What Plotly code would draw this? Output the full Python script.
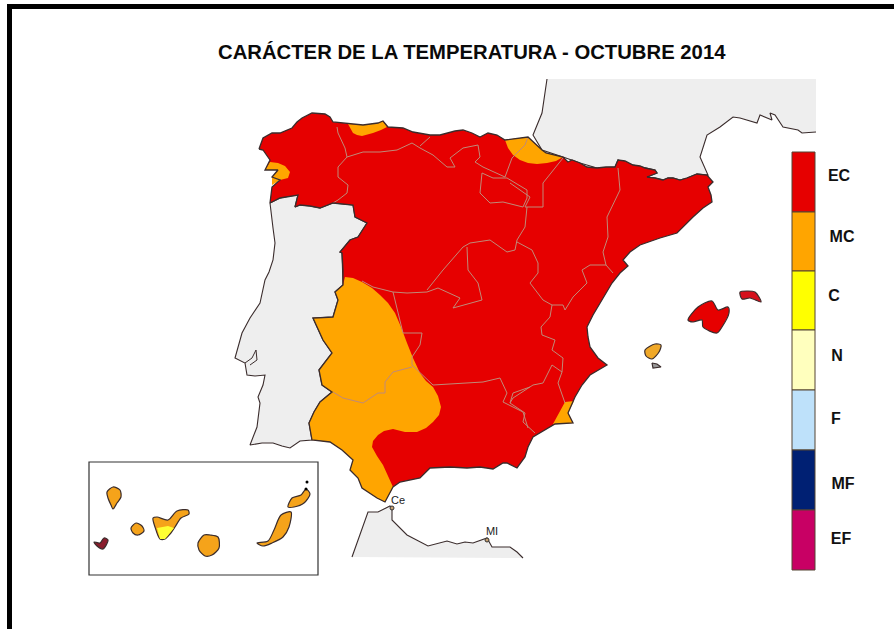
import plotly.graph_objects as go

TITLE = "CARÁCTER DE LA TEMPERATURA - OCTUBRE 2014"
CATEGORIES = ["EC", "MC", "C", "N", "F", "MF", "EF"]
COLORS = ["#e60000", "#ffa500", "#ffff00", "#ffffbe", "#bee1fa", "#002073", "#c80064"]
BAR_EDGES = [152, 212, 271, 330, 390, 450, 510, 570]
LABEL_X = [839, 842, 834, 837, 836, 843, 841]
LABEL_Y = [177, 238, 297, 357, 420, 485, 540]

SPAIN = [(259,149),(261,143),(263,138),(272,133),(280,133),(292,128),(297,122),(302,118),(312,113),(325,114),(330,117),(333,122),(343,123),(363,125),(378,123),(383,121),(388,127),(403,128),(413,132),(430,135),(440,135),(447,133),(455,131),(463,130),(472,133),(480,137),(488,133),(497,135),(505,140),(528,137),(535,144),(542,150),(546,153),(563,157),(568,162),(572,160),(580,163),(587,167),(597,168),(606,167),(615,167),(618,160),(625,161),(633,165),(640,166),(645,168),(655,170),(657,173),(647,177),(655,178),(663,180),(668,178),(673,178),(680,180),(687,178),(697,174),(707,175),(713,182),(708,187),(711,195),(712,202),(703,208),(693,217),(685,225),(677,233),(660,238),(640,245),(630,252),(623,260),(628,266),(620,273),(612,283),(606,293),(600,303),(593,315),(587,327),(588,337),(590,347),(598,358),(607,365),(598,370),(590,375),(582,385),(575,397),(568,413),(573,423),(555,424),(545,430),(533,437),(528,447),(525,457),(517,468),(507,463),(503,463),(493,469),(480,467),(467,468),(450,467),(430,468),(420,478),(400,482),(393,487),(389,495),(385,502),(377,498),(362,488),(358,478),(350,470),(353,460),(342,450),(330,442),(312,440),(309,423),(314,412),(320,402),(332,392),(322,385),(319,370),(332,353),(323,340),(313,318),(333,317),(338,300),(335,292),(343,285),(343,270),(342,253),(340,252),(350,240),(358,237),(367,223),(355,217),(353,205),(333,203),(320,208),(310,206),(300,205),(295,207),(298,195),(290,196),(280,198),(270,203),(272,187),(280,180),(272,177),(278,170),(265,170),(270,160),(263,150)]
PORTUGAL = [(270,203),(280,198),(290,196),(298,195),(295,207),(300,205),(310,206),(320,208),(333,203),(353,205),(355,217),(367,223),(358,237),(350,240),(340,252),(342,253),(343,285),(335,292),(338,300),(333,317),(313,318),(323,340),(332,353),(319,370),(322,385),(332,392),(320,402),(314,412),(309,423),(312,440),(300,441),(290,448),(282,446),(273,443),(262,443),(250,445),(257,427),(260,403),(258,397),(263,385),(265,375),(255,376),(247,375),(245,363),(235,358),(238,346),(242,333),(250,318),(260,303),(265,280),(269,272),(273,260),(275,243),(273,228)]
ESTUARY = [(245,363),(252,358),(256,350),(257,360),(250,365)]
FRANCE = [(547,79),(816,79),(816,132),(802,133),(798,130),(783,127),(775,115),(770,113),(772,120),(760,115),(757,123),(740,118),(733,117),(720,127),(707,135),(700,157),(708,175),(697,174),(687,178),(680,180),(673,178),(668,178),(663,180),(655,178),(647,177),(657,173),(655,170),(645,168),(633,165),(618,160),(615,167),(597,168),(580,163),(563,157),(542,150),(533,135),(542,113)]
MOROCCO = [(352,557),(368,512),(378,512),(390,506),(392,508),(392,520),(407,535),(428,546),(447,541),(457,544),(465,542),(473,543),(487,538),(492,547),(510,547),(517,552),(523,558)]

OR_WEST = [(345,277),(353,278),(362,282),(372,288),(380,295),(388,303),(395,313),(401,327),(407,343),(413,358),(420,373),(426,381),(433,387),(438,396),(441,407),(439,415),(433,422),(426,428),(417,432),(405,432),(393,429),(384,431),(378,435),(373,441),(372,447),(377,456),(383,465),(388,476),(393,487),(389,495),(385,502),(377,498),(362,488),(358,478),(350,470),(353,460),(342,450),(330,442),(312,440),(309,423),(314,412),(320,402),(332,392),(322,385),(319,370),(332,353),(323,340),(313,318),(333,317),(338,300),(335,292),(343,285)]
OR_BASQUE = [(505,140),(528,137),(535,144),(542,150),(546,153),(563,157),(556,161),(547,163),(537,164),(528,163),(520,160),(513,155),(508,148)]
OR_ASTUR = [(348,124),(363,125),(378,123),(383,121),(387,127),(381,130),(373,133),(362,136),(357,135),(353,133)]
OR_GAL = [(265,170),(270,162),(278,163),(285,166),(290,172),(288,178),(280,180),(272,185),(272,177),(278,170)]
OR_ALIC = [(565,402),(574,401),(568,413),(573,423),(553,424)]

MALLORCA = [(688,320),(698,307),(712,301),(718,310),(728,307),(729,313),(722,327),(717,333),(703,327),(702,320),(693,322)]
MENORCA = [(740,292),(748,291),(755,292),(759,297),(761,302),(750,298),(742,299)]
IBIZA = [(645,350),(655,344),(661,345),(659,352),(652,359),(646,356)]
FORMENTERA = [(652,363),(657,364),(661,367),(653,368)]

LA_PALMA = [(107,492),(113,487),(120,490),(121,497),(117,503),(113,509),(111,505),(108,498)]
GOMERA = [(131,528),(136,523),(142,526),(144,531),(138,535),(133,533)]
HIERRO = [(94,542),(100,543),(104,538),(108,540),(103,549),(97,546)]
TENERIFE = [(153,518),(157,517),(168,520),(177,511),(188,510),(189,514),(181,518),(175,527),(170,534),(165,539),(160,539),(155,527)]
TENERIFE_S = [(157,528),(168,526),(174,528),(165,539),(160,539)]
GRAN_CANARIA = [(198,543),(204,535),(210,535),(218,537),(219,548),(212,555),(205,556),(199,550)]
FUERTE = [(257,543),(268,541),(274,530),(281,515),(291,512),(289,527),(283,537),(272,543),(263,546)]
LANZAROTE = [(288,507),(292,498),(301,495),(306,489),(310,494),(304,503),(294,507)]

BORDERS = [
 [(337,127),(338,133),(345,148),(347,157),(338,167),(338,177),(348,185),(347,193),(338,200),(333,203)],
 [(347,157),(363,152),(380,152),(397,150),(412,143),(420,148),(433,155),(447,167),(455,167),(450,158),(463,148),(478,145),(480,157),(475,162),(483,167),(505,177),(512,158),(525,145),(528,137)],
 [(420,146),(430,137)],
 [(482,173),(480,193),(490,203),(503,202),(523,207),(527,198),(527,190),(507,178),(493,178),(482,173)],
 [(563,158),(543,183),(543,207),(525,207),(530,197),(510,183)],
 [(527,207),(525,227),(517,240),(515,250),(507,252),(490,240),(470,243),(463,247),(443,270),(427,290)],
 [(618,168),(620,190),(607,217),(608,237),(603,252),(606,265),(613,273)],
 [(517,242),(532,250),(538,263),(538,273),(530,283),(543,300),(552,305),(563,305),(565,310),(573,297),(587,283),(582,270),(590,265),(606,265)],
 [(552,305),(550,317),(541,327),(542,335),(555,340),(552,350),(563,358),(562,372),(558,383),(563,397),(565,403)],
 [(562,372),(552,365),(543,383),(533,385),(513,398),(510,403),(525,413),(523,422),(535,433)],
 [(362,281),(373,287),(393,292),(407,293),(427,292),(438,288),(460,298),(453,308),(482,300),(478,283),(468,270),(467,247)],
 [(393,292),(398,313),(403,333),(422,333),(420,345),(412,357),(412,365),(433,385),(460,383),(483,382),(500,378),(507,393),(503,402),(523,412),(528,428)],
 [(510,403),(513,393),(530,387)],
 [(412,367),(393,372),(385,382),(385,393),(378,393),(363,403),(343,398),(333,392)],
]

BLACK_DOTS_X = [306, 307]
BLACK_DOTS_Y = [489, 482]
CITY_X = [392, 487]
CITY_Y = [508, 540]
CITY_LABELS = ["Ce", "MI"]
CITY_LABEL_X = [398, 492]
CITY_LABEL_Y = [501, 532]

fig = go.Figure()
COAST = "#3a2c2c"

def poly(pts, fill, line=COAST, w=1.2, closed=True, smooth=False):
    xs = [p[0] for p in pts]
    ys = [p[1] for p in pts]
    if closed:
        xs = xs + xs[:1]
        ys = ys + ys[:1]
    ldict = dict(color=line if line else "rgba(0,0,0,0)", width=w if line else 0)
    if smooth:
        ldict.update(shape="spline", smoothing=0.8)
    fig.add_trace(go.Scatter(x=xs, y=ys, mode="lines", fill="toself" if fill else None,
                             fillcolor=fill, hoverinfo="skip", showlegend=False, line=ldict))

GRAY = "#eeeeee"
poly(FRANCE, GRAY, None)
poly(FRANCE[2:] + FRANCE[:1], None, COAST, 1.1, closed=False)
poly(PORTUGAL, GRAY, COAST, 1.1)
poly(ESTUARY, None, COAST, 1.0, closed=False)
poly(MOROCCO, GRAY, None)
poly(MOROCCO, None, COAST, 1.1, closed=False)
poly(SPAIN, COLORS[0], None)
for p in (OR_WEST, OR_BASQUE, OR_ASTUR, OR_GAL, OR_ALIC):
    poly(p, COLORS[1], None)
for b in BORDERS:
    poly(b, None, "#c08a78", 1.0, closed=False)
poly(SPAIN, None, COAST, 1.3)
poly(MALLORCA, COLORS[0], smooth=True)
poly(MENORCA, "#d5101c", smooth=True)
poly(IBIZA, "#f0a828", smooth=True)
poly(FORMENTERA, "#999999")
for p in (LA_PALMA, GOMERA, TENERIFE, GRAN_CANARIA, FUERTE, LANZAROTE):
    poly(p, "#f5a31a", smooth=True)
poly(TENERIFE_S, "#ffff33", None)
poly(HIERRO, "#8a1c2c", smooth=True)

fig.add_trace(go.Scatter(x=BLACK_DOTS_X, y=BLACK_DOTS_Y, mode="markers",
                         marker=dict(color="black", size=3), hoverinfo="skip", showlegend=False))
fig.add_trace(go.Scatter(x=CITY_X, y=CITY_Y, mode="markers",
                         marker=dict(color="#c8a070", size=4, line=dict(color="#333", width=1)),
                         hoverinfo="skip", showlegend=False))
fig.add_trace(go.Scatter(x=CITY_LABEL_X, y=CITY_LABEL_Y, mode="text", text=CITY_LABELS,
                         textfont=dict(family="Liberation Sans", size=11, color="#222"),
                         hoverinfo="skip", showlegend=False))

# legend colour bar
fig.add_trace(go.Bar(x=[803.5] * 7, y=[BAR_EDGES[i + 1] - BAR_EDGES[i] for i in range(7)], base=BAR_EDGES[:-1],
                     width=23, marker=dict(color=COLORS, line=dict(color="#554433", width=1)),
                     hoverinfo="skip", showlegend=False))
fig.add_trace(go.Scatter(x=LABEL_X, y=LABEL_Y, mode="text", text=CATEGORIES,
                         textfont=dict(family="Liberation Sans", size=16, color="#111", weight="bold"),
                         hoverinfo="skip", showlegend=False))

fig.add_annotation(x=472, y=52, text="<b>%s</b>" % TITLE, showarrow=False, xref="x", yref="y",
                   font=dict(family="Liberation Sans", size=20.3, color="#0a0a0a"))

# inset box and picture frame
fig.add_shape(type="rect", x0=89, y0=462, x1=318, y1=575, line=dict(color="#333", width=1.2))
fig.add_shape(type="path", path="M 9.5 640 L 9.5 6.5 L 900 6.5", line=dict(color="black", width=5))

fig.update_layout(
    width=894, height=629, margin=dict(l=0, r=0, t=0, b=0), autosize=False,
    paper_bgcolor="white", plot_bgcolor="white", barmode="overlay",
    xaxis=dict(range=[0, 894], visible=False, fixedrange=True),
    yaxis=dict(range=[629, 0], visible=False, fixedrange=True),
)
fig.write_html("out.html", config={"displayModeBar": False},
               post_script="document.body.style.margin='0';document.body.style.overflow='hidden';")
